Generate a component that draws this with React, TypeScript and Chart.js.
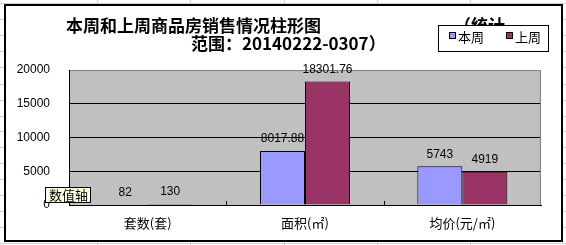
import React, { useEffect, useRef } from "react";
import { Chart, registerables } from "chart.js";

Chart.register(...registerables);

const categories = ["套数(套)", "面积(㎡)", "均价(元/㎡)"];
const seriesNames = ["本周", "上周"];
const thisWeek = [82, 8017.88, 5743];
const lastWeek = [130, 18301.76, 4919];
const yMin = 0;
const yMax = 20000;
const yStep = 5000;
const titleLine1 = "本周和上周商品房销售情况柱形图";
const titleTail = "（统计";
const titleLine2 = "范围：20140222-0307）";
const axisTip = "数值轴";
const seriesColors = ["#9999FF", "#993366"];

const W = 566;
const H = 245;
const CJK = '"Noto Sans CJK SC", "Noto Sans", sans-serif';
const NUM = '"Liberation Sans", Arial, sans-serif';

const excelRows = [3, 19, 35, 51, 67, 84, 100, 116, 131, 147, 163, 179, 195, 211, 227, 243];
const excelCols = [97, 190, 284, 377, 470];

const pagePlugin = {
  id: "page",
  beforeDraw(chart: any) {
    const ctx = chart.ctx;
    const a = chart.chartArea;
    ctx.save();
    ctx.fillStyle = "#ffffff";
    ctx.fillRect(0, 0, W, H);
    ctx.strokeStyle = "#d0d0d0";
    ctx.lineWidth = 1;
    ctx.beginPath();
    for (const y of excelRows) {
      ctx.moveTo(0, y + 0.5);
      ctx.lineTo(W, y + 0.5);
    }
    for (const x of excelCols) {
      ctx.moveTo(x + 0.5, 0);
      ctx.lineTo(x + 0.5, H);
    }
    ctx.stroke();
    ctx.fillStyle = "#ffffff";
    ctx.fillRect(5, 5, 557, 236);
    ctx.strokeStyle = "#000000";
    ctx.lineWidth = 2;
    ctx.strokeRect(5, 5, 557, 236);
    ctx.fillStyle = "#C0C0C0";
    ctx.fillRect(a.left, a.top, a.right - a.left, a.bottom - a.top);
    ctx.restore();
  },
  beforeDatasetsDraw(chart: any) {
    const ctx = chart.ctx;
    const a = chart.chartArea;
    const xs = chart.scales.x;
    ctx.save();
    ctx.strokeStyle = "#808080";
    ctx.lineWidth = 1;
    ctx.beginPath();
    ctx.moveTo(Math.round(a.right) - 0.5, a.top);
    ctx.lineTo(Math.round(a.right) - 0.5, a.bottom);
    ctx.stroke();
    ctx.strokeStyle = "#000000";
    ctx.beginPath();
    const n = categories.length;
    for (let i = 1; i < n; i++) {
      const x = Math.round((xs.getPixelForValue(i - 1) + xs.getPixelForValue(i)) / 2) + 0.5;
      ctx.moveTo(x, a.bottom - 4);
      ctx.lineTo(x, a.bottom);
    }
    ctx.stroke();
    ctx.restore();
  },
  afterDatasetsDraw(chart: any) {
    const ctx = chart.ctx;
    ctx.save();
    ctx.fillStyle = "#000000";
    ctx.font = `12px ${NUM}`;
    ctx.textAlign = "center";
    ctx.textBaseline = "middle";
    chart.data.datasets.forEach((ds: any, di: number) => {
      const meta = chart.getDatasetMeta(di);
      meta.data.forEach((el: any, i: number) => {
        ctx.fillText(String(ds.data[i]), el.x, el.y - 12);
      });
    });
    ctx.restore();
  },
  afterDraw(chart: any) {
    const ctx = chart.ctx;
    ctx.save();
    ctx.fillStyle = "#000000";
    ctx.font = `bold 17px ${CJK}`;
    ctx.textAlign = "left";
    ctx.textBaseline = "middle";
    ctx.fillText(titleLine1, 66, 26);
    ctx.fillText(titleTail, 454, 26);
    ctx.fillText(titleLine2, 191, 44);
    ctx.fillStyle = "#ffffff";
    ctx.fillRect(438, 25, 110, 26);
    ctx.strokeStyle = "#000000";
    ctx.lineWidth = 1;
    ctx.strokeRect(438.5, 25.5, 110, 26);
    const items = [
      { x: 449, label: seriesNames[0], color: seriesColors[0] },
      { x: 506, label: seriesNames[1], color: seriesColors[1] },
    ];
    ctx.font = `13px ${CJK}`;
    for (const it of items) {
      ctx.fillStyle = it.color;
      ctx.fillRect(it.x, 32, 6, 6);
      ctx.strokeStyle = "#000000";
      ctx.strokeRect(it.x + 0.5, 32.5, 6, 6);
      ctx.fillStyle = "#000000";
      ctx.fillText(it.label, it.x + 9, 37.5);
    }
    ctx.fillStyle = "#FFFFE1";
    ctx.fillRect(45, 187, 46, 16);
    ctx.strokeStyle = "#000000";
    ctx.strokeRect(45.5, 187.5, 45, 15);
    ctx.fillStyle = "#000000";
    ctx.font = `13px ${CJK}`;
    ctx.fillText(axisTip, 49, 195.5);
    ctx.restore();
  },
};

export default function App() {
  const ref = useRef<HTMLCanvasElement | null>(null);
  useEffect(() => {
    document.body.style.margin = "0";
    const canvas = ref.current!;
    const chart = new Chart(canvas, {
      type: "bar",
      data: {
        labels: categories,
        datasets: [
          {
            label: seriesNames[0],
            data: thisWeek,
            backgroundColor: seriesColors[0],
            borderColor: "#000000",
            borderWidth: 1,
          },
          {
            label: seriesNames[1],
            data: lastWeek,
            backgroundColor: seriesColors[1],
            borderColor: "#000000",
            borderWidth: 1,
          },
        ],
      },
      options: {
        responsive: false,
        animation: false,
        devicePixelRatio: 1,
        datasets: { bar: { categoryPercentage: 0.572, barPercentage: 1 } },
        layout: { padding: { top: 70, right: 25, bottom: 0, left: 0 } },
        plugins: { legend: { display: false }, title: { display: false }, tooltip: { enabled: false } },
        scales: {
          x: {
            grid: { display: false, drawTicks: false },
            border: { display: true, color: "#000000", width: 1 },
            ticks: { color: "#000000", font: { family: CJK, size: 13 }, padding: 10, maxRotation: 0 },
            afterFit: (s: any) => {
              s.height = 40;
            },
          },
          y: {
            min: yMin,
            max: yMax,
            grid: {
              drawTicks: false,
              color: (c: any) => (c.tick && c.tick.value === yMax ? "#808080" : "#000000"),
              lineWidth: 1,
            },
            border: { display: true, color: "#000000", width: 1 },
            ticks: {
              stepSize: yStep,
              color: "#000000",
              font: { family: NUM, size: 12 },
              padding: 19,
              callback: (v: any) => String(v),
            },
            afterFit: (s: any) => {
              s.width = 69;
            },
          },
        },
      },
      plugins: [pagePlugin],
    } as any);
    return () => chart.destroy();
  }, []);
  return (
    <div style={{ position: "fixed", left: 0, top: 0, width: W, height: H, background: "#fff" }}>
      <canvas ref={ref} width={W} height={H} style={{ display: "block", width: W, height: H }} />
    </div>
  );
}
